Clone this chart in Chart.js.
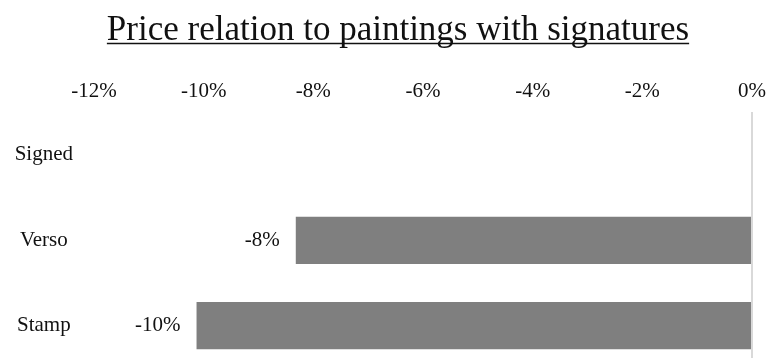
<!DOCTYPE html>
<html>
<head>
<meta charset="utf-8">
<script src="https://cdn.jsdelivr.net/npm/chart.js@4"></script>
<style>
  html, body { margin: 0; padding: 0; background: #fff; overflow: hidden; }
  #wrap { position: relative; width: 774px; height: 394px; }
</style>
</head>
<body>
<div id="wrap"><canvas id="c"></canvas></div>
<script>
// Price difference of each signature type versus signed paintings (percent)
const categories = ['Signed', 'Verso', 'Stamp'];
const priceDiff = [0, -8.32, -10.13];
const axisMin = -12;
const axisMax = 0;
const axisStep = 2;
const titleText = 'Price relation to paintings with signatures';

const FONT = "'Liberation Serif', 'Times New Roman', serif";
const TEXT = '#111111';
const TITLE_SIZE = 35;

// Underlined title, centred a little right of the canvas middle
const underlinedTitle = {
  id: 'underlinedTitle',
  afterDraw(chart) {
    const ctx = chart.ctx;
    ctx.save();
    ctx.font = `${TITLE_SIZE}px ${FONT}`;
    ctx.fillStyle = TEXT;
    ctx.textAlign = 'center';
    ctx.textBaseline = 'alphabetic';
    const cx = 398, base = 40;
    ctx.fillText(titleText, cx, base);
    const w = ctx.measureText(titleText).width;
    ctx.strokeStyle = TEXT;
    ctx.lineWidth = 1.5;
    ctx.beginPath();
    ctx.moveTo(cx - w / 2, base + 3.5);
    ctx.lineTo(cx + w / 2, base + 3.5);
    ctx.stroke();
    ctx.restore();
  }
};

// Value labels placed just left of each bar's end
const barLabels = {
  id: 'barLabels',
  afterDatasetsDraw(chart) {
    const ctx = chart.ctx;
    const meta = chart.getDatasetMeta(0);
    ctx.save();
    ctx.font = `21px ${FONT}`;
    ctx.fillStyle = TEXT;
    ctx.textAlign = 'right';
    ctx.textBaseline = 'middle';
    meta.data.forEach((bar, i) => {
      const v = priceDiff[i];
      if (!v) return;
      ctx.fillText(Math.round(v) + '%', bar.x - 16, bar.y);
    });
    ctx.restore();
  }
};

new Chart(document.getElementById('c'), {
  type: 'bar',
  data: {
    labels: categories,
    datasets: [{
      data: priceDiff,
      backgroundColor: '#7f7f7f',
      borderWidth: 0,
      barPercentage: 0.553,
      categoryPercentage: 1
    }]
  },
  options: {
    indexAxis: 'y',
    responsive: true,
    maintainAspectRatio: false,
    animation: false,
    layout: { padding: { left: 0, right: 18, top: 71, bottom: 0 } },
    plugins: {
      legend: { display: false },
      tooltip: { enabled: false },
      title: { display: false }
    },
    scales: {
      x: {
        position: 'top',
        min: axisMin,
        max: axisMax,
        ticks: {
          stepSize: axisStep,
          color: TEXT,
          font: { family: FONT, size: 21 },
          padding: 8,
          callback: v => v + '%'
        },
        grid: {
          drawTicks: false,
          lineWidth: 2,
          color: ctx => (ctx.tick && ctx.tick.value === 0) ? '#d9d9d9' : 'rgba(0,0,0,0)'
        },
        border: { display: false }
      },
      y: {
        ticks: {
          color: TEXT,
          font: { family: FONT, size: 21 },
          crossAlign: 'center',
          padding: 13
        },
        grid: { display: false },
        border: { display: false },
        afterFit(scale) { scale.width = 94; }
      }
    }
  },
  plugins: [underlinedTitle, barLabels]
});
</script>
</body>
</html>
